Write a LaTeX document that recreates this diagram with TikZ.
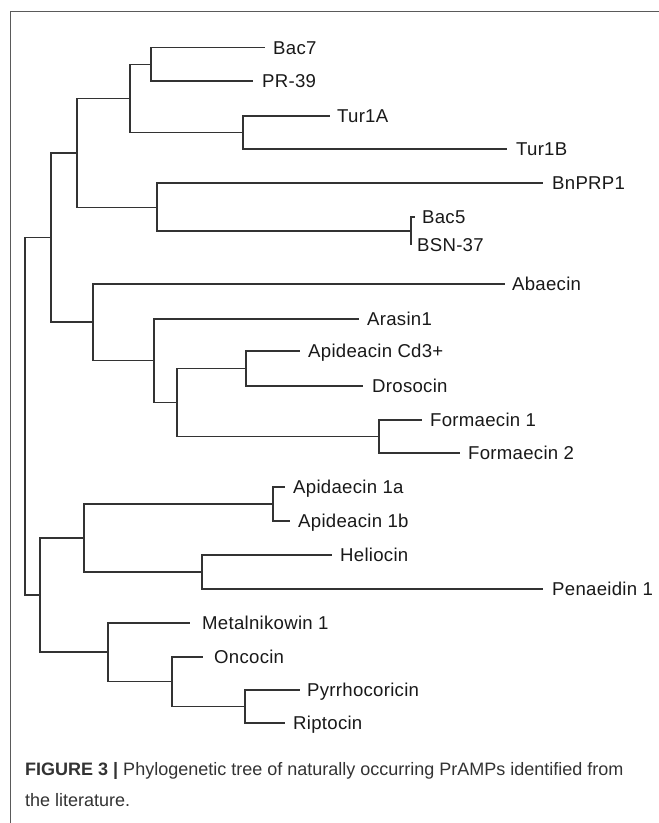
\documentclass[tikz,border=0pt]{standalone}
\usepackage{fontspec}
\setmainfont{Liberation Sans}
\newfontfamily\labfont[LetterSpace=1.5]{Liberation Sans}
\definecolor{treeline}{HTML}{333333}
\definecolor{framecol}{HTML}{5A5A5A}
\definecolor{capcol}{HTML}{333333}
\begin{document}
\begin{tikzpicture}[x=1pt,y=-1pt,
  branch/.style={draw=treeline,line width=1.1pt},
  leaf/.style={anchor=west,inner ysep=0pt,inner xsep=0pt,text height=13.5pt,text depth=0pt,
    font=\labfont\fontsize{18.6}{21}\selectfont,text=black!90},
  framel/.style={draw=framecol,line width=1pt},
  captext/.style={anchor=base west,inner sep=0pt,text=capcol,font=\fontsize{18}{20}\selectfont}]
\useasboundingbox (0,0) rectangle (659,823);
\fill[white] (0,0) rectangle (659,823);
% frame
\coordinate (fbl) at (10,823);
\coordinate (ftl) at (10,11);
\coordinate (ftr) at (659,11);
\draw[framel] (fbl) -- (ftl) -- (ftr);
% leaves: leaf line ends at (x,y), text starts after gap
\node[leaf] (bac7) at (265,47.7) {\hspace{8pt}Bac7};
\node[leaf] (pr39) at (253,81) {\hspace{9pt}PR-39};
\node[leaf] (tur1a) at (330,116) {\hspace{7pt}Tur1A};
\node[leaf] (tur1b) at (507,149) {\hspace{9pt}Tur1B};
\node[leaf] (bnprp1) at (543,183) {\hspace{9pt}BnPRP1};
\node[leaf] (bac5) at (415,217) {\hspace{7pt}Bac5};
\node[leaf] (bsn37) at (411,245) {\hspace{6pt}BSN-37};
\node[leaf] (abaecin) at (505,284) {\hspace{7pt}Abaecin};
\node[leaf] (arasin) at (359,319) {\hspace{8pt}Arasin1};
\node[leaf] (apcd) at (300,351) {\hspace{8pt}Apideacin Cd3+};
\node[leaf] (droso) at (363,386) {\hspace{9pt}Drosocin};
\node[leaf] (form1) at (422,420) {\hspace{8pt}Formaecin 1};
\node[leaf] (form2) at (460,453) {\hspace{8pt}Formaecin 2};
\node[leaf] (api1a) at (285,487) {\hspace{8pt}Apidaecin 1a};
\node[leaf] (api1b) at (290,521) {\hspace{8pt}Apideacin 1b};
\node[leaf] (helio) at (332,555) {\hspace{8pt}Heliocin};
\node[leaf] (penae) at (543,589) {\hspace{9pt}Penaeidin 1};
\node[leaf] (metal) at (190,623) {\hspace{12pt}Metalnikowin 1};
\node[leaf] (onco) at (203,657) {\hspace{11pt}Oncocin};
\node[leaf] (pyrr) at (300,690) {\hspace{7pt}Pyrrhocoricin};
\node[leaf] (ript) at (285,723) {\hspace{8pt}Riptocin};
% internal nodes
\coordinate (nbp) at (151,64.3);
\coordinate (ntur) at (243,132.5);
\coordinate (na) at (130,98.4);
\coordinate (nb5) at (411,231);
\coordinate (nbn) at (157,207.5);
\coordinate (nc) at (77,153);
\coordinate (nad) at (246,368.5);
\coordinate (nf) at (379,436.5);
\coordinate (ne) at (177,402.5);
\coordinate (nar) at (154,360.7);
\coordinate (nab) at (93,322);
\coordinate (nd) at (51,237.5);
\coordinate (napi) at (273,504);
\coordinate (nhel) at (202,572);
\coordinate (ng) at (84,538);
\coordinate (npr) at (245,706.5);
\coordinate (non) at (172,681.75);
\coordinate (nme) at (108,652);
\coordinate (nh) at (40,595);
\coordinate (root) at (25,416);
% branches
\draw[branch] (nbp) |- (bac7.west);
\draw[branch] (nbp) |- (pr39.west);
\draw[branch] (ntur) |- (tur1a.west);
\draw[branch] (ntur) |- (tur1b.west);
\draw[branch] (na) |- (nbp);
\draw[branch] (na) |- (ntur);
\draw[branch] (nb5) |- (bac5.west);
\draw[branch] (nb5) |- (bsn37.west);
\draw[branch] (nbn) |- (bnprp1.west);
\draw[branch] (nbn) |- (nb5);
\draw[branch] (nc) |- (na);
\draw[branch] (nc) |- (nbn);
\draw[branch] (nad) |- (apcd.west);
\draw[branch] (nad) |- (droso.west);
\draw[branch] (nf) |- (form1.west);
\draw[branch] (nf) |- (form2.west);
\draw[branch] (ne) |- (nad);
\draw[branch] (ne) |- (nf);
\draw[branch] (nar) |- (arasin.west);
\draw[branch] (nar) |- (ne);
\draw[branch] (nab) |- (abaecin.west);
\draw[branch] (nab) |- (nar);
\draw[branch] (nd) |- (nc);
\draw[branch] (nd) |- (nab);
\draw[branch] (napi) |- (api1a.west);
\draw[branch] (napi) |- (api1b.west);
\draw[branch] (nhel) |- (helio.west);
\draw[branch] (nhel) |- (penae.west);
\draw[branch] (ng) |- (napi);
\draw[branch] (ng) |- (nhel);
\draw[branch] (npr) |- (pyrr.west);
\draw[branch] (npr) |- (ript.west);
\draw[branch] (non) |- (onco.west);
\draw[branch] (non) |- (npr);
\draw[branch] (nme) |- (metal.west);
\draw[branch] (nme) |- (non);
\draw[branch] (nh) |- (ng);
\draw[branch] (nh) |- (nme);
\draw[branch] (root) |- (nd);
\draw[branch] (root) |- (nh);
% caption
\node[captext] (cap1) at (25,775) {\textbf{FIGURE 3 |} Phylogenetic tree of naturally occurring PrAMPs identified from};
\node[captext] (cap2) at (25,806) {the literature.};
\end{tikzpicture}
\end{document}
